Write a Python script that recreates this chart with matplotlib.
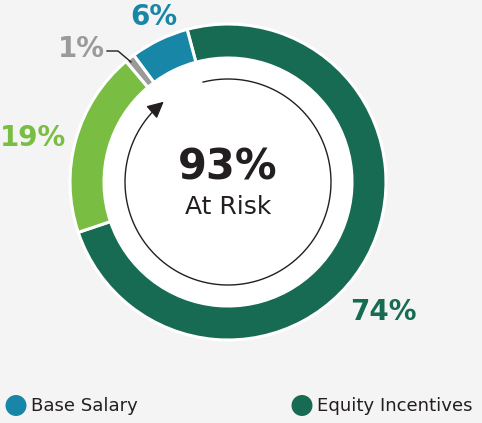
import numpy as np
import matplotlib.pyplot as plt
from matplotlib.patches import Circle

# pay mix data (clockwise from the top)
segments = ["Equity Incentives", "Annual Incentive", "Other", "Base Salary"]
shares = [74, 19, 1, 6]
colors = ["#176b52", "#79be43", "#9a9a9a", "#1886a7"]
at_risk = 93
legend_items = ["Base Salary", "Equity Incentives"]
legend_colors = ["#1886a7", "#176b52"]

bg = "#f5f4f4"
W, H = 482, 423

fig = plt.figure(figsize=(W / 100, H / 100), dpi=100, facecolor=bg)
ax = fig.add_axes([0, 0, 1, 1])

cx, cy = 228, H - 182
R, ring = 158, 34

# white disc in the middle
ax.add_patch(Circle((cx, cy), R - ring + 1, facecolor="white", edgecolor="none", zorder=1))

wedges, _ = ax.pie(shares, colors=colors, startangle=105, counterclock=False,
                   center=(cx, cy), radius=R, frame=True,
                   wedgeprops=dict(width=ring, edgecolor="white", linewidth=2.2))
for w in wedges:
    w.set_zorder(2)
ax.set_xlim(0, W)
ax.set_ylim(0, H)
ax.set_aspect("equal")
ax.axis("off")

# arrow circle
r_arr = 103
th = np.radians(np.linspace(104, 131 - 360, 400))
ax.plot(cx + r_arr * np.cos(th), cy + r_arr * np.sin(th), color="#231f20", lw=1, zorder=3)
t1, t2 = np.radians(131 - 360 + 4), np.radians(130 - 360)
ax.annotate("", xy=(cx + r_arr * np.cos(t2 - 0.05), cy + r_arr * np.sin(t2 - 0.05)),
            xytext=(cx + r_arr * np.cos(t1), cy + r_arr * np.sin(t1)),
            arrowprops=dict(arrowstyle="-|>,head_length=1.0,head_width=0.5",
                            color="#231f20", lw=1), zorder=4)

# centre text
ax.text(cx, H - 167, f"{at_risk}%", ha="center", va="center", fontsize=30,
        fontweight="bold", color="#231f20", zorder=5)
ax.text(cx, H - 207, "At Risk", ha="center", va="center", fontsize=18,
        color="#231f20", zorder=5)

# percentage labels
lab_pos = [(383, H - 312), (33, H - 138), (81, H - 49), (154, H - 17)]
for s, c, (x, y) in zip(shares, colors, lab_pos):
    ax.text(x, y, f"{s}%", ha="center", va="center", fontsize=20,
            fontweight="bold", color=c)

# leader line for the small slice
ax.plot([107, 118, 131], [H - 51, H - 51, H - 62], color="#231f20", lw=1)

# legend
leg_x = [16, 302]
for x, name, c in zip(leg_x, legend_items, legend_colors):
    ax.add_patch(Circle((x, H - 405.5), 10.5, facecolor=c, edgecolor="none"))
    ax.text(x + 15, H - 405.5, name, ha="left", va="center", fontsize=13.1, color="#231f20")

fig.savefig("out.png", dpi=100, facecolor=bg)
